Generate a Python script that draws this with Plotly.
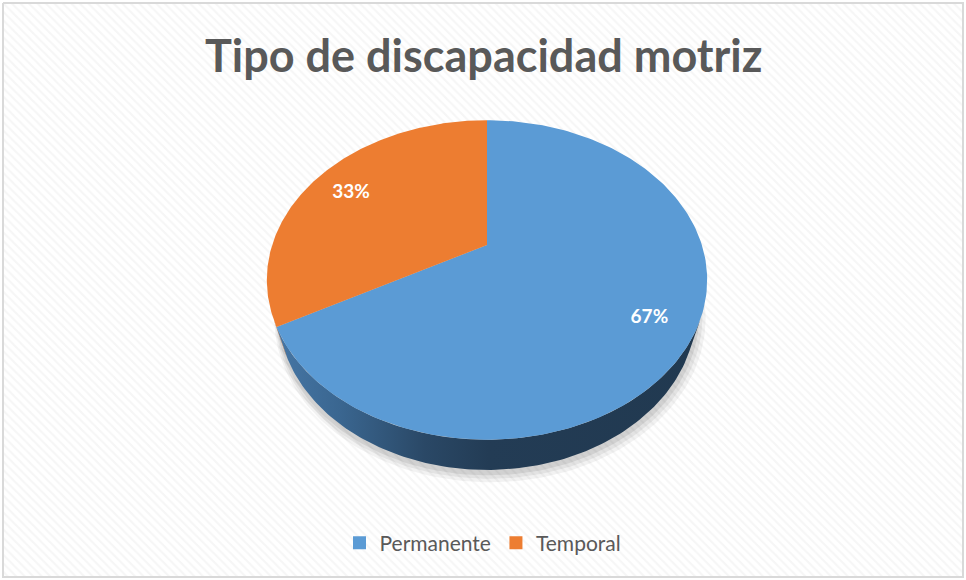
import numpy as np
import plotly.graph_objects as go

# ---- data ----
categories = ["Permanente", "Temporal"]
values = [67, 33]
title_text = "Tipo de discapacidad motriz"

# ---- style ----
top_colors = ["#5b9bd5", "#ed7d31"]
side_scales = [
    [[0, "#4676a5"], [0.15, "#3a6690"], [0.35, "#2a4866"], [0.5, "#233c55"], [1, "#213950"]],
    [[0, "#a85a26"], [1, "#9c5020"]],
]
W, Hh = 966, 580
CX, CY = 487, 245          # projected pie centre (pixels)
F, L = 694.0, 3.23         # perspective focal length / camera distance
SA, CA = 0.708, 0.706      # sin / cos of the elevation angle
THICK = 0.231              # pie thickness (disc radius = 1)
LABEL_R, LABEL_DY = 0.8, 5
FONT = "Lato, 'Open Sans', sans-serif"


def proj(theta, z, r=1.0):
    x = r * np.cos(theta)
    y = r * np.sin(theta)
    depth = y * CA - z * SA + L
    X = CX + F * x / depth
    Y = CY - F * (y * SA + z * CA) / depth
    return X, Y


fig = go.Figure()

# background frame with diagonal hatch
fig.add_trace(go.Scatter(
    x=[3, 963, 963, 3, 3], y=[3, 3, 577, 577, 3], mode="lines",
    line=dict(color="#d9d9d9", width=2), fill="toself", fillcolor="white",
    fillpattern=dict(shape="\\", fgcolor="#ededed", bgcolor="white", size=6, solidity=0.35),
    hoverinfo="skip", showlegend=False))

# slice angles (start at 12 o'clock, clockwise)
total = float(sum(values))
starts, ends = [], []
a = np.pi / 2
for v in values:
    sweep = 2 * np.pi * v / total
    starts.append(a)
    ends.append(a - sweep)
    a -= sweep

# soft shadow under the pie
full = np.linspace(-np.pi, np.pi, 240)
for dx, dy, grow, alpha in [(3, 5, 1.03, 0.05), (2, 4, 1.02, 0.06), (1, 3, 1.01, 0.08)]:
    sx, sy = proj(full, -THICK, grow)
    fig.add_trace(go.Scatter(x=sx + dx, y=sy + dy, mode="lines", line=dict(width=0),
                             fill="toself", fillcolor=f"rgba(0,0,0,{alpha})",
                             hoverinfo="skip", showlegend=False))

# visible side range
beta = np.arcsin(1.0 / (L * CA))
vis_lo, vis_hi = -np.pi + beta, -beta


def visible_parts(t1, t2):
    out = []
    for shift in (-2 * np.pi, 0, 2 * np.pi):
        l3, h3 = max(t2 + shift, vis_lo), min(t1 + shift, vis_hi)
        if h3 > l3:
            out.append((l3, h3))
    return out


# sides
for i in range(len(values)):
    for lo, hi in visible_parts(starts[i], ends[i]):
        t = np.linspace(lo, hi, 120)
        tx, ty = proj(t, 0.0)
        bx, by = proj(t[::-1], -THICK)
        px = np.concatenate([tx, bx, tx[:1]])
        py = np.concatenate([ty, by, ty[:1]])
        fig.add_trace(go.Scatter(x=px, y=py, mode="lines", line=dict(width=0),
                                 fill="toself",
                                 fillgradient=dict(type="horizontal", colorscale=side_scales[i]),
                                 hoverinfo="skip", showlegend=False))

# top faces
for i in range(len(values)):
    t = np.linspace(starts[i], ends[i], 200)
    ax, ay = proj(t, 0.0)
    cx0, cy0 = proj(0.0, 0.0, 0.0)
    px = np.concatenate([[cx0], ax, [cx0]])
    py = np.concatenate([[cy0], ay, [cy0]])
    fig.add_trace(go.Scatter(x=px, y=py, mode="lines", line=dict(width=0),
                             fill="toself", fillcolor=top_colors[i],
                             hoverinfo="skip", showlegend=False))

# data labels
lx, ly, lt = [], [], []
for i, v in enumerate(values):
    mid = (starts[i] + ends[i]) / 2
    X, Y = proj(mid, 0.0, LABEL_R)
    lx.append(float(X)); ly.append(float(Y) + LABEL_DY)
    lt.append(f"{round(100 * v / total)}%")
fig.add_trace(go.Scatter(x=lx, y=ly, mode="text", text=lt,
                         textfont=dict(family=FONT, size=19, color="white", weight="bold"),
                         hoverinfo="skip", showlegend=False))

# legend entries
for i, c in enumerate(categories):
    fig.add_trace(go.Scatter(x=[None], y=[None], mode="markers", name=c,
                             marker=dict(symbol="square", size=13, color=top_colors[i])))

fig.update_layout(
    width=W, height=Hh,
    margin=dict(l=0, r=0, t=0, b=0),
    paper_bgcolor="white", plot_bgcolor="white",
    xaxis=dict(range=[0, W], visible=False, fixedrange=True),
    yaxis=dict(range=[Hh, 0], visible=False, fixedrange=True),
    showlegend=True,
    legend=dict(orientation="h", x=0.5, xanchor="center", y=1 - 543 / Hh, yanchor="middle",
                font=dict(family=FONT, size=21, color="#595959"),
                bgcolor="rgba(0,0,0,0)", itemwidth=30, tracegroupgap=0),
    annotations=[dict(text=title_text, x=0.5, xref="paper", y=1 - 55 / Hh, yref="paper",
                      xanchor="center", yanchor="middle", showarrow=False,
                      font=dict(family=FONT, size=45, color="#595959", weight="bold"))],
)

fig.write_html("out.html", config={"displayModeBar": False},
               post_script="document.body.style.margin='0';")
